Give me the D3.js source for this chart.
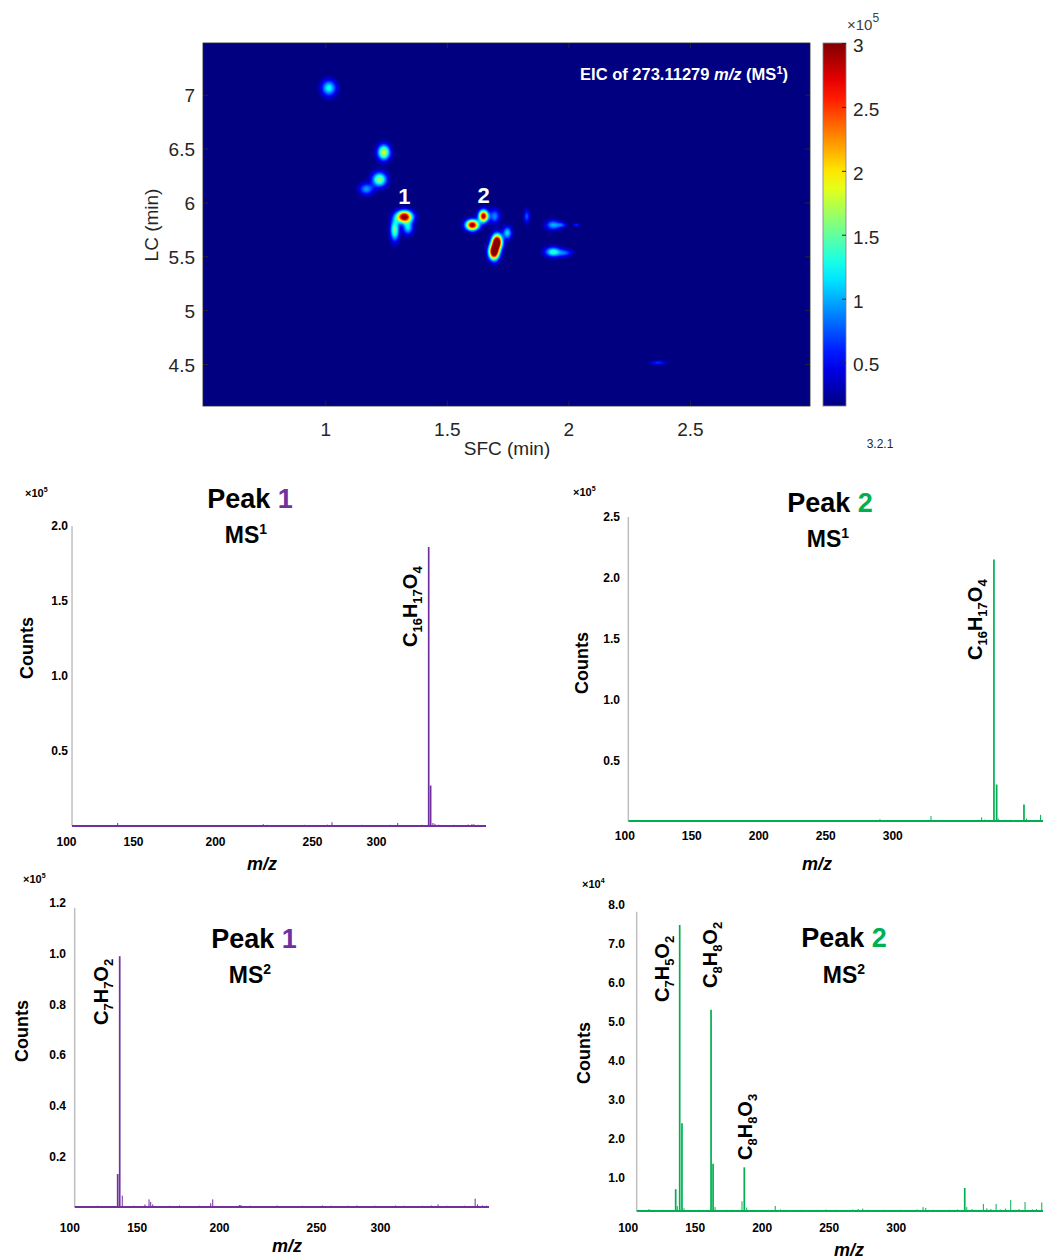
<!DOCTYPE html>
<html>
<head>
<meta charset="utf-8">
<script src="https://cdn.jsdelivr.net/npm/d3@7"></script>
<style>
  body { margin: 0; background: #fff; }
  svg { font-family: "Liberation Sans", Arial, Helvetica, sans-serif; }
</style>
</head>
<body>
<svg width="1043" height="1259"></svg>
<script>
// **** 2D SFC x LC map: spots (times in min, height x1e5) ****
var spotSfc      = [1.015, 1.241, 1.223, 1.169, 1.325, 1.286, 1.340, 1.605, 1.651, 1.697, 1.707, 1.694, 1.749, 1.829, 1.937, 1.973, 2.033, 1.937, 1.986, 2.369];
var spotLc       = [7.062, 6.465, 6.213, 6.124, 5.866, 5.745, 5.765, 5.790, 5.873, 5.872, 5.633, 5.540, 5.717, 5.870, 5.790, 5.790, 5.790, 5.540, 5.531, 4.512];
var spotHeight   = [1.10, 1.70, 1.50, 0.80, 3.00, 1.40, 1.00, 2.90, 2.80, 0.75, 3.30, 3.30, 1.00, 0.60, 0.85, 0.50, 0.50, 1.20, 0.60, 0.50];
var spotWidthSfc = [0.020, 0.017, 0.020, 0.020, 0.022, 0.012, 0.014, 0.018, 0.013, 0.014, 0.014, 0.014, 0.012, 0.008, 0.020, 0.014, 0.009, 0.022, 0.020, 0.022];
var spotWidthLc  = [0.049, 0.048, 0.044, 0.036, 0.037, 0.068, 0.042, 0.032, 0.037, 0.043, 0.048, 0.048, 0.038, 0.042, 0.030, 0.016, 0.010, 0.030, 0.023, 0.012];
var mapFloor = 0.16;

var sfcTicks = [1, 1.5, 2, 2.5];
var lcTicks = [4.5, 5, 5.5, 6, 6.5, 7];
var cbarTicks = [0.5, 1, 1.5, 2, 2.5, 3];

// **** spectra: m/z and counts ****
// Peak 1 MS1 (x1e5)
var p1Mz = [341.2, 342.7, 344.5, 346.1, 138.6, 224.9, 265.6, 317, 375, 376.6,
  108, 113, 119, 126, 131, 145, 152, 158, 163, 171, 178, 186, 194, 203, 209, 218, 227, 231, 236, 241,
  246, 253, 258, 262, 270, 276, 283, 289, 296, 304, 311, 322, 330, 336, 349, 355, 361, 368, 372, 380, 383];
var p1Counts = [1.86, 0.27, 0.02, 0.015, 0.02, 0.012, 0.025, 0.02, 0.012, 0.012,
  0.006, 0.005, 0.007, 0.005, 0.006, 0.006, 0.005, 0.007, 0.005, 0.006, 0.005, 0.006, 0.005, 0.006, 0.007, 0.006, 0.008, 0.006, 0.007, 0.006,
  0.008, 0.007, 0.006, 0.009, 0.006, 0.007, 0.006, 0.008, 0.006, 0.007, 0.008, 0.006, 0.007, 0.008, 0.009, 0.007, 0.008, 0.007, 0.01, 0.008, 0.007];

// Peak 2 MS1 (x1e5)
var p2Mz = [375.9, 377.9, 379.1, 398.3, 400.2, 410.7, 328.9, 366.7, 369.2, 290.8, 160.2, 184.5, 186,
  110, 122, 135, 140, 148, 158, 170, 176, 195, 203, 214, 222, 228, 239, 246, 252, 263, 270, 277, 284,
  298, 306, 313, 320, 336, 345, 352, 358, 362, 388, 392, 404, 407];
var p2Counts = [2.15, 0.30, 0.02, 0.135, 0.02, 0.05, 0.04, 0.03, 0.012, 0.015, 0.008, 0.008, 0.007,
  0.004, 0.004, 0.005, 0.004, 0.005, 0.006, 0.004, 0.005, 0.004, 0.005, 0.004, 0.006, 0.005, 0.004, 0.005, 0.004, 0.005, 0.004, 0.006, 0.005,
  0.004, 0.005, 0.004, 0.005, 0.004, 0.006, 0.005, 0.007, 0.006, 0.01, 0.008, 0.008, 0.006];

// Peak 1 MS2 (x1e5)
var p3Mz = [137.4, 135.9, 139.3, 155.0, 157.5, 158.5, 159.7, 194.96, 196.2, 210.5, 211.3, 345.3, 374.2, 376,
  106, 112, 121, 124, 128, 132, 145, 148, 165, 170, 176, 181, 188, 203, 216, 222, 230, 236, 243, 248,
  255, 262, 268, 275, 282, 289, 296, 305, 312, 319, 326, 333, 340, 352, 359, 366, 380, 383];
var p3Counts = [0.99, 0.13, 0.045, 0.01, 0.03, 0.02, 0.01, 0.015, 0.03, 0.008, 0.008, 0.01, 0.033, 0.01,
  0.004, 0.003, 0.005, 0.004, 0.004, 0.003, 0.004, 0.005, 0.004, 0.005, 0.006, 0.004, 0.005, 0.004, 0.005, 0.004, 0.006, 0.004, 0.005, 0.004,
  0.006, 0.005, 0.004, 0.005, 0.006, 0.004, 0.005, 0.004, 0.006, 0.005, 0.004, 0.005, 0.006, 0.005, 0.004, 0.005, 0.006, 0.005];

// Peak 2 MS2 (x1e4)
var p4Mz = [135.8, 137.0, 138.8, 140.5, 142.0, 162.2, 163.7, 165.2, 185.3, 187.0, 188.8, 210.1, 351.5, 353.0,
  365.4, 374.9, 385.8, 396.5, 409.0, 320.4, 322.4, 115.9, 275.4,
  108, 111, 118, 121, 126, 131, 145, 150, 153, 170, 174, 178, 181, 194, 199, 205, 214, 218, 224, 230,
  236, 242, 248, 255, 261, 268, 272, 279, 285, 291, 298, 304, 310, 316, 328, 334, 340, 346, 357, 360,
  368, 371, 378, 382, 389, 392, 402, 405];
var p4Counts = [0.71, 0.28, 7.49, 2.40, 0.22, 5.31, 1.36, 0.25, 0.40, 1.27, 0.24, 0.28, 0.74, 0.25,
  0.33, 0.33, 0.43, 0.38, 0.37, 0.25, 0.23, 0.20, 0.21,
  0.18, 0.17, 0.18, 0.17, 0.18, 0.17, 0.18, 0.17, 0.18, 0.17, 0.18, 0.18, 0.17, 0.18, 0.17, 0.18, 0.19, 0.18, 0.17, 0.18,
  0.17, 0.18, 0.19, 0.18, 0.17, 0.19, 0.20, 0.18, 0.17, 0.18, 0.17, 0.18, 0.17, 0.19, 0.18, 0.17, 0.18, 0.19, 0.20, 0.18,
  0.22, 0.20, 0.19, 0.21, 0.18, 0.20, 0.19, 0.20];

var purple = '#7030a0', green = '#00b050';
var svg = d3.select('svg');

// **** jet colour map ****
function jet(t) {
    t = Math.max(0, Math.min(1, t));
    function c(v) { return Math.max(0, Math.min(1, v)) * 255; }
    return d3.rgb(c(1.5 - Math.abs(4 * t - 3)), c(1.5 - Math.abs(4 * t - 2)), c(1.5 - Math.abs(4 * t - 1))) + '';
}

// **** heat map ****
var mapL = 203, mapR = 810, mapT = 43, mapB = 406;
var sfcScale = d3.scaleLinear().domain([0.497, 2.994]).range([mapL, mapR]);
var lcScale = d3.scaleLinear().domain([4.11, 7.48]).range([mapB, mapT]);
var colorScale = d3.scaleLinear().domain([mapFloor, 3.0]).range([0, 1]).clamp(true);
function colorOf(v) { return jet(colorScale(v)); }

var nx = mapR - mapL, ny = mapB - mapT;
var grid = new Float64Array(nx * ny);
for (var j = 0; j < ny; j++) {
    var lc = lcScale.invert(mapT + j + 0.5);
    for (var i = 0; i < nx; i++) {
        var sfc = sfcScale.invert(mapL + i + 0.5);
        var v = mapFloor;
        for (var k = 0; k < spotSfc.length; k++) {
            var dx = (sfc - spotSfc[k]) / spotWidthSfc[k];
            var dy = (lc - spotLc[k]) / spotWidthLc[k];
            var e = dx * dx + dy * dy;
            if (e < 40) v += spotHeight[k] * Math.exp(-0.5 * e);
        }
        grid[j * nx + i] = v;
    }
}

var defs = svg.append('defs');
// clip rect lives in the translated group's own coordinates
defs.append('clipPath').attr('id', 'mapclip')
    .append('rect').attr('x', 0).attr('y', 0).attr('width', nx).attr('height', ny);

svg.append('rect').attr('x', mapL).attr('y', mapT).attr('width', nx).attr('height', ny)
    .attr('fill', colorOf(mapFloor));

var levels = d3.range(0.2, 3.0, 0.04);
var contours = d3.contours().size([nx, ny]).thresholds(levels)(Array.from(grid));
svg.append('g')
    .attr('transform', 'translate(' + mapL + ',' + mapT + ')')
    .attr('clip-path', 'url(#mapclip)')
    .selectAll('path').data(contours).join('path')
    .attr('d', d3.geoPath(d3.geoIdentity()))
    .attr('fill', function(d) { return colorOf(d.value + 0.02); });

svg.append('rect').attr('x', mapL).attr('y', mapT).attr('width', nx).attr('height', ny)
    .attr('fill', 'none').attr('stroke', '#262626').attr('stroke-width', 0.8);

function styleAxis(g, size, dy) {
    g.select('.domain').remove();
    g.selectAll('line').attr('stroke', '#262626');
    g.selectAll('text').attr('fill', '#262626').style('font-size', size + 'px').style('font-family', '"Liberation Sans", Arial, sans-serif');
    if (dy) g.selectAll('text').attr('dy', dy);
}

svg.append('g').attr('transform', 'translate(0,' + mapB + ')')
    .call(d3.axisBottom(sfcScale).tickValues(sfcTicks).tickFormat(d3.format('')).tickSize(-5).tickPadding(17))
    .call(styleAxis, 19);
svg.append('g').attr('transform', 'translate(0,' + mapT + ')')
    .call(d3.axisTop(sfcScale).tickValues(sfcTicks).tickFormat('').tickSize(-5))
    .call(styleAxis, 19);
svg.append('g').attr('transform', 'translate(' + mapL + ',0)')
    .call(d3.axisLeft(lcScale).tickValues(lcTicks).tickFormat(d3.format('')).tickSize(-5).tickPadding(8))
    .call(styleAxis, 19, '0.38em');
svg.append('g').attr('transform', 'translate(' + mapR + ',0)')
    .call(d3.axisRight(lcScale).tickValues(lcTicks).tickFormat('').tickSize(-5))
    .call(styleAxis, 19);

svg.append('text').attr('x', 507).attr('y', 455).attr('text-anchor', 'middle')
    .attr('fill', '#262626').style('font-size', '19px').text('SFC (min)');
svg.append('text').attr('transform', 'translate(158,225) rotate(-90)').attr('text-anchor', 'middle')
    .attr('fill', '#262626').style('font-size', '19px').text('LC (min)');

// EIC title inside the map
var eic = svg.append('text').attr('x', 788).attr('y', 80).attr('text-anchor', 'end')
    .attr('fill', '#fff').style('font-size', '16.5px').style('font-weight', 'bold');
eic.append('tspan').text('EIC of 273.11279 ');
eic.append('tspan').style('font-style', 'italic').text('m/z');
eic.append('tspan').text(' (MS');
eic.append('tspan').attr('dy', -6).style('font-size', '11px').text('1');
eic.append('tspan').attr('dy', 6).text(')');

// peak numbers above spots 1 and 2
[[4, '1'], [8, '2']].forEach(function(p) {
    svg.append('text').attr('x', sfcScale(spotSfc[p[0]])).attr('y', lcScale(spotLc[p[0]]) - 13)
        .attr('text-anchor', 'middle').attr('fill', '#fff')
        .style('font-size', '22px').style('font-weight', 'bold').text(p[1]);
});

// colour bar
var cbScale = d3.scaleLinear().domain([mapFloor, 3.0]).range([mapB, mapT]);
var grad = defs.append('linearGradient').attr('id', 'jetgrad')
    .attr('x1', 0).attr('y1', 1).attr('x2', 0).attr('y2', 0);
d3.range(0, 1.0001, 0.05).forEach(function(t) {
    grad.append('stop').attr('offset', t).attr('stop-color', jet(t));
});
svg.append('rect').attr('x', 823).attr('y', mapT).attr('width', 23).attr('height', ny)
    .attr('fill', 'url(#jetgrad)').attr('stroke', '#7f7f7f').attr('stroke-width', 0.8);
svg.append('g').attr('transform', 'translate(846,0)')
    .call(d3.axisRight(cbScale).tickValues(cbarTicks).tickFormat(d3.format('')).tickSize(-4).tickPadding(7))
    .call(styleAxis, 19, '0.44em');
var expo = svg.append('text').attr('x', 847).attr('y', 30).attr('fill', '#404040').style('font-size', '15px');
expo.append('tspan').text('\u00d710');
expo.append('tspan').attr('dy', -8).style('font-size', '12px').text('5');

svg.append('text').attr('x', 880).attr('y', 448).attr('text-anchor', 'middle')
    .attr('fill', '#262626').style('font-size', '12px').text('3.2.1');

// **** spectra panels ****
function formula(g, str, x, y) {
    var t = g.append('text').attr('transform', 'translate(' + x + ',' + y + ') rotate(-90)')
        .style('font-size', '20px').style('font-weight', 'bold').attr('fill', '#000');
    var parts = str.match(/[A-Z][a-z]?|\d+/g);
    var sub = false;
    parts.forEach(function(p) {
        var isNum = /\d/.test(p);
        var ts = t.append('tspan').text(p);
        if (isNum) { ts.attr('dy', sub ? 0 : 5).style('font-size', '13px'); sub = true; }
        else { ts.attr('dy', sub ? -5 : 0); sub = false; }
    });
}

function drawSpectrum(cfg, mz, counts) {
    var x = d3.scaleLinear().domain(cfg.xDomain).range(cfg.xRange);
    var y = d3.scaleLinear().domain(cfg.yDomain).range(cfg.yRange);
    var base = cfg.yDomain[0];
    var g = svg.append('g');

    // y axis line
    g.append('line').attr('x1', x(cfg.mzStart)).attr('x2', x(cfg.mzStart))
        .attr('y1', y(base)).attr('y2', y(cfg.axisTop))
        .attr('stroke', '#bfbfbf').attr('stroke-width', 1.5);

    // stems
    var pairs = d3.zip(mz, counts);
    g.selectAll('line.stem').data(pairs).join('line').attr('class', 'stem')
        .attr('x1', function(d) { return x(d[0]); })
        .attr('x2', function(d) { return x(d[0]); })
        .attr('y1', y(base))
        .attr('y2', function(d) { return y(d[1]); })
        .attr('stroke', cfg.color)
        .attr('stroke-width', function(d) { return (d[1] - base) > cfg.big ? 1.7 : 1; });

    // baseline
    g.append('line').attr('x1', x(cfg.mzStart)).attr('x2', x(cfg.mzEnd))
        .attr('y1', y(base)).attr('y2', y(base))
        .attr('stroke', cfg.color).attr('stroke-width', 2);

    // tick labels
    g.append('g').attr('transform', 'translate(' + cfg.yLabelX + ',0)')
        .call(d3.axisLeft(y).tickValues(cfg.yTicks).tickFormat(d3.format('.1f')).tickSize(0).tickPadding(0))
        .call(function(a) {
            a.select('.domain').remove();
            a.selectAll('text').attr('fill', '#000').style('font-size', '12px').style('font-weight', 'bold')
                .style('font-family', '"Liberation Sans", Arial, sans-serif');
        });
    g.append('g').attr('transform', 'translate(0,' + (cfg.xLabelY - 8.5) + ')')
        .call(d3.axisBottom(x).tickValues([100, 150, 200, 250, 300]).tickFormat(d3.format('d')).tickSize(0).tickPadding(0))
        .call(function(a) {
            a.select('.domain').remove();
            a.selectAll('text').attr('fill', '#000').style('font-size', '12px').style('font-weight', 'bold')
                .style('font-family', '"Liberation Sans", Arial, sans-serif');
        });

    // exponent
    var ex = g.append('text').attr('x', cfg.expo[0]).attr('y', cfg.expo[1])
        .style('font-size', '11px').style('font-weight', 'bold');
    ex.append('tspan').text('\u00d710');
    ex.append('tspan').attr('dy', -5).style('font-size', '7px').text(cfg.expoText);

    // titles
    var t1 = g.append('text').attr('x', cfg.title[0]).attr('y', cfg.title[1]).attr('text-anchor', 'middle')
        .style('font-size', '27px').style('font-weight', 'bold');
    t1.append('tspan').text('Peak ');
    t1.append('tspan').attr('fill', cfg.color).text(cfg.peak);
    var t2 = g.append('text').attr('x', cfg.ms[0]).attr('y', cfg.ms[1]).attr('text-anchor', 'middle')
        .style('font-size', '23px').style('font-weight', 'bold');
    t2.append('tspan').text('MS');
    t2.append('tspan').attr('dy', -9).style('font-size', '14px').text(cfg.msLevel);

    // axis titles
    g.append('text').attr('transform', 'translate(' + cfg.counts[0] + ',' + cfg.counts[1] + ') rotate(-90)')
        .attr('text-anchor', 'middle').style('font-size', '18px').style('font-weight', 'bold').text('Counts');
    g.append('text').attr('x', cfg.mzLabel[0]).attr('y', cfg.mzLabel[1]).attr('text-anchor', 'middle')
        .style('font-size', '18px').style('font-weight', 'bold').style('font-style', 'italic').text('m/z');

    cfg.formulas.forEach(function(f) { formula(g, f[0], f[1], f[2]); });
}

drawSpectrum({
    color: purple, peak: '1', msLevel: '1', expoText: '5', big: 0.05,
    xDomain: [100, 150, 200, 250, 300, 386], xRange: [66, 133, 215, 312, 376, 486],
    mzStart: 104.5, mzEnd: 386,
    yDomain: [0, 2], yRange: [826, 526], yTicks: [0.5, 1, 1.5, 2], axisTop: 2,
    yLabelX: 68, xLabelY: 846,
    expo: [25, 497], title: [250, 508], ms: [246, 543], counts: [33, 648], mzLabel: [262, 870],
    formulas: [['C16H17O4', 417, 647]]
}, p1Mz, p1Counts);

drawSpectrum({
    color: green, peak: '2', msLevel: '1', expoText: '5', big: 0.05,
    xDomain: [100, 412.5], xRange: [624.3, 1043],
    mzStart: 103, mzEnd: 412.5,
    yDomain: [0, 2.5], yRange: [821, 517], yTicks: [0.5, 1, 1.5, 2, 2.5], axisTop: 2.5,
    yLabelX: 620, xLabelY: 840,
    expo: [573, 496], title: [830, 512], ms: [828, 547], counts: [588, 663], mzLabel: [817, 870],
    formulas: [['C16H17O4', 982, 660]]
}, p2Mz, p2Counts);

drawSpectrum({
    color: purple, peak: '1', msLevel: '2', expoText: '5', big: 0.05,
    xDomain: [100, 150, 200, 250, 300, 385], xRange: [69.3, 136.7, 219, 316, 380, 489],
    mzStart: 104, mzEnd: 385,
    yDomain: [0, 1.2], yRange: [1207, 903], yTicks: [0.2, 0.4, 0.6, 0.8, 1.0, 1.2], axisTop: 1.18,
    yLabelX: 66, xLabelY: 1232,
    expo: [23, 883], title: [254, 948], ms: [250, 983], counts: [28, 1031], mzLabel: [287, 1252],
    formulas: [['C7H7O2', 108, 1025]]
}, p3Mz, p3Counts);

drawSpectrum({
    color: green, peak: '2', msLevel: '2', expoText: '4', big: 0.5,
    xDomain: [100, 409.9], xRange: [627.7, 1043],
    mzStart: 106.7, mzEnd: 409.9,
    yDomain: [0.15, 8], yRange: [1211, 905], yTicks: [1, 2, 3, 4, 5, 6, 7, 8], axisTop: 7.83,
    yLabelX: 625, xLabelY: 1232,
    expo: [582, 888], title: [844, 947], ms: [844, 983], counts: [590, 1053], mzLabel: [849, 1256],
    formulas: [['C7H5O2', 669, 1002], ['C8H8O2', 717, 988], ['C8H8O3', 752, 1160]]
}, p4Mz, p4Counts);
</script>
</body>
</html>
